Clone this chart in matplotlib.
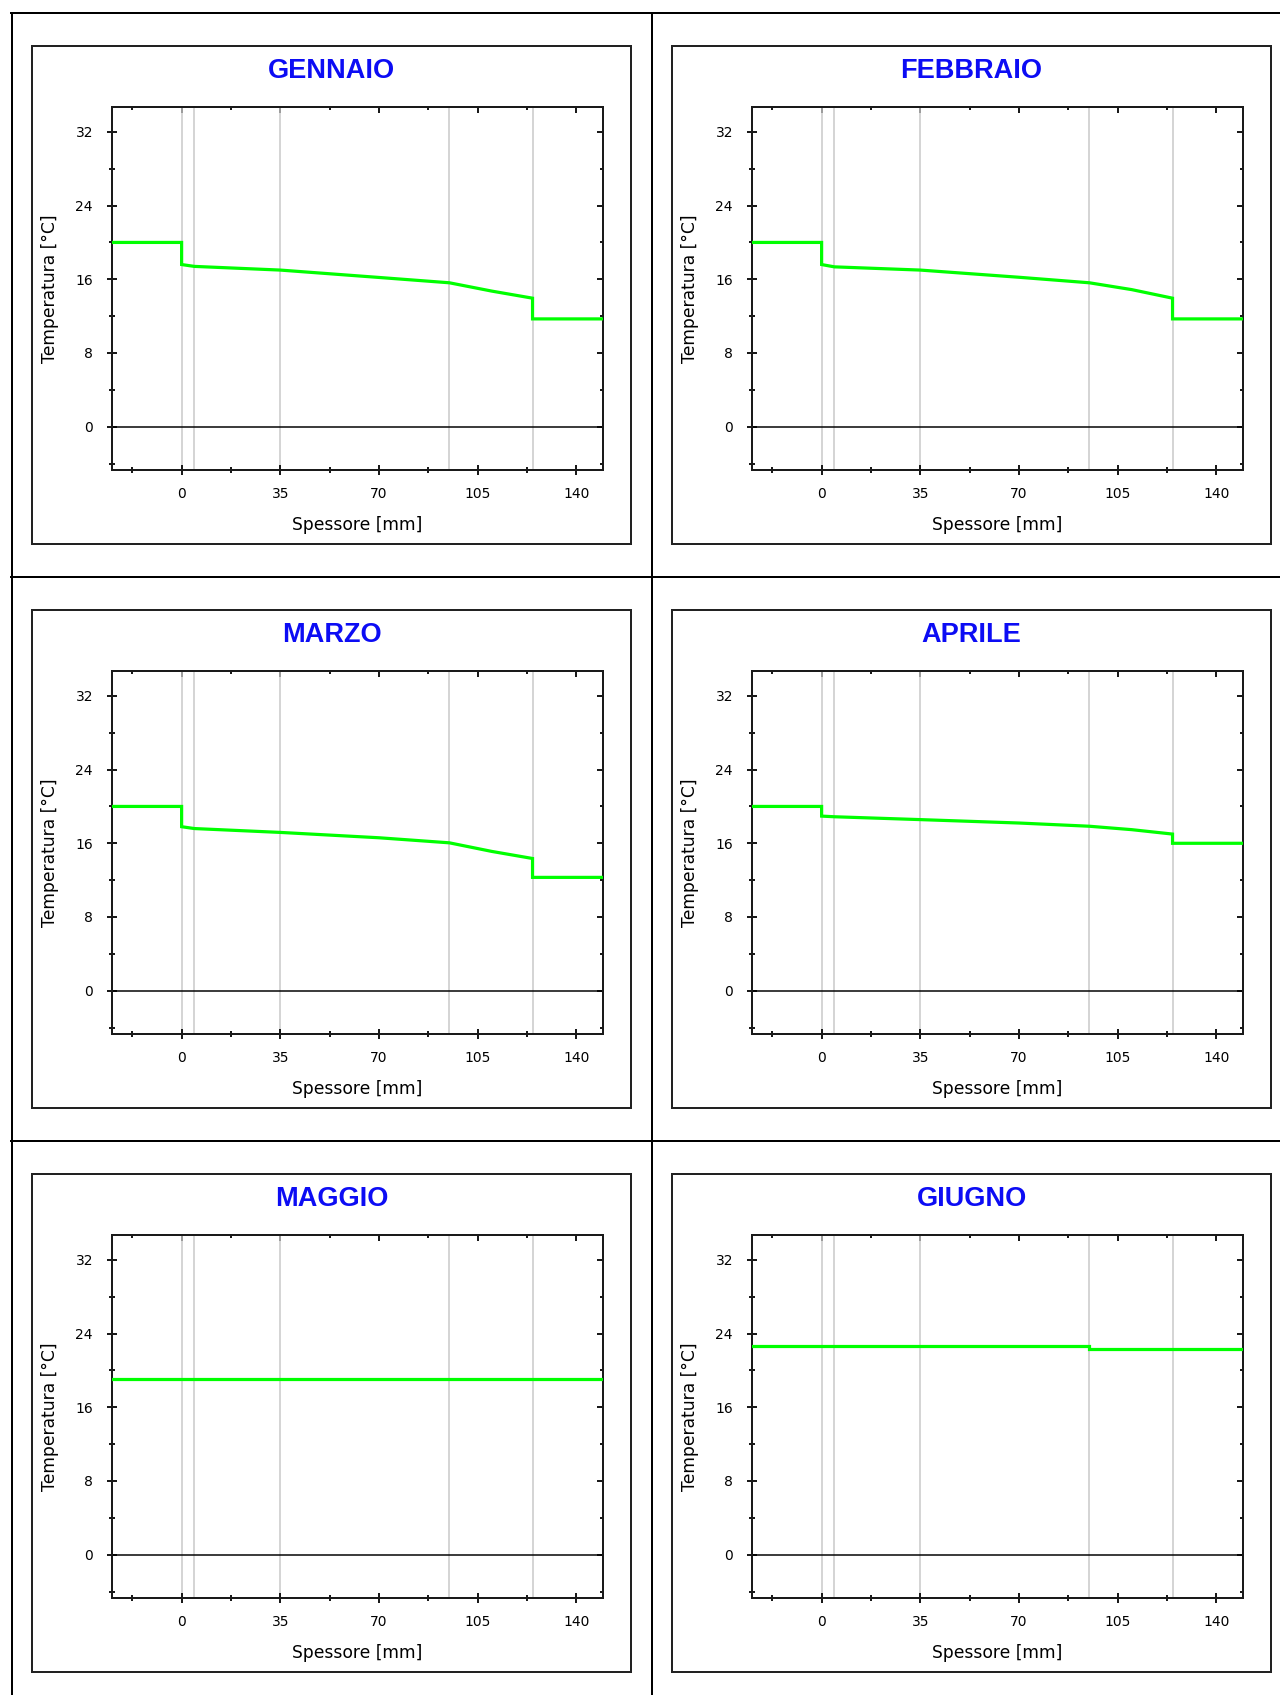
import matplotlib
matplotlib.use("Agg")
import matplotlib.pyplot as plt
from matplotlib.lines import Line2D
from matplotlib.patches import Rectangle

# Monthly temperature profiles through the wall (indoor air -> layers -> outdoor air)
months = ["GENNAIO", "FEBBRAIO", "MARZO", "APRILE", "MAGGIO", "GIUGNO"]

# Thickness positions [mm] of the profile points
spessore = [-25, 0, 0, 4.5, 35, 70, 95, 95, 110, 124.5, 124.5, 150]

# Temperature [°C] at each position, one list per month
t_gennaio = [20.0, 20.0, 17.6, 17.4, 17.0, 16.2, 15.62, 15.62, 14.72, 13.95, 11.7, 11.7]
t_febbraio = [20.0, 20.0, 17.6, 17.35, 17.0, 16.22, 15.62, 15.62, 14.88, 13.95, 11.7, 11.7]
t_marzo = [20.0, 20.0, 17.8, 17.6, 17.18, 16.6, 16.05, 16.05, 15.12, 14.35, 12.3, 12.3]
t_aprile = [20.0, 20.0, 18.95, 18.88, 18.57, 18.2, 17.85, 17.85, 17.48, 17.0, 16.0, 16.0]
t_maggio = [19.1, 19.1, 19.1, 19.1, 19.1, 19.1, 19.1, 19.1, 19.1, 19.1, 19.1, 19.1]
t_giugno = [22.6, 22.6, 22.6, 22.6, 22.6, 22.6, 22.6, 22.32, 22.32, 22.32, 22.32, 22.32]
temperature = [t_gennaio, t_febbraio, t_marzo, t_aprile, t_maggio, t_giugno]

# Layer boundaries [mm]
strati = [0, 4.5, 35, 95, 124.5]

x_major = [0, 35, 70, 105, 140]
x_minor = [-17.5, 17.5, 52.5, 87.5, 122.5]
y_major = [0, 8, 16, 24, 32]
y_minor = [-4, 4, 12, 20, 28]

W, H = 1280, 1695
DPI = 100
fig = plt.figure(figsize=(W / DPI, H / DPI), dpi=DPI)
fig.patch.set_facecolor("white")

PX = 72.0 / DPI  # points per pixel


def fx(x):
    return x / W


def fy(y):
    return 1 - y / H


# Outer table grid
grid_kw = dict(color="black", linewidth=2 * PX, transform=fig.transFigure)
fig.add_artist(Line2D([fx(11), fx(1280)], [fy(13), fy(13)], **grid_kw))
fig.add_artist(Line2D([fx(11.5), fx(11.5)], [fy(13), fy(1695)], **grid_kw))
fig.add_artist(Line2D([fx(652), fx(652)], [fy(13), fy(1695)], **grid_kw))
for yy in (577, 1141):
    fig.add_artist(Line2D([fx(11), fx(1280)], [fy(yy), fy(yy)], **grid_kw))

for i, (name, temps) in enumerate(zip(months, temperature)):
    r, c = divmod(i, 2)
    dx, dy = 640 * c, 564 * r

    # Panel frame
    bx0, bx1 = 32 + dx, 631 + dx
    by0, by1 = 46 + dy, 544 + dy
    fig.add_artist(Rectangle((fx(bx0), fy(by1)), (bx1 - bx0) / W, (by1 - by0) / H,
                             transform=fig.transFigure, fill=False,
                             edgecolor="#222222", linewidth=2 * PX))

    # Title
    fig.text(fx((bx0 + bx1) / 2), fy(71 + dy), name, ha="center", va="center",
             fontsize=19.5, fontweight="bold", family="Liberation Sans", color="#0c0cf4")

    # Plot area
    ax0, ax1 = 112 + dx, 603 + dx
    ay0, ay1 = 107 + dy, 470 + dy
    ax = fig.add_axes([fx(ax0), fy(ay1), (ax1 - ax0) / W, (ay1 - ay0) / H])
    ax.set_xlim(-24.7, 149.5)
    ax.set_ylim(-4.7, 34.7)

    for s in strati:
        ax.axvline(s, color="#c8c8c8", linewidth=1.5 * PX, zorder=1)
    ax.axhline(0, color="black", linewidth=1.5 * PX, zorder=2)
    ax.plot(spessore, temps, color="#00FF00", linewidth=3.2 * PX, zorder=3,
            solid_joinstyle="miter")

    for sp in ax.spines.values():
        sp.set_color("#1a1a1a")
        sp.set_linewidth(2 * PX)

    ax.set_xticks(x_major)
    ax.set_xticks(x_minor, minor=True)
    ax.set_yticks(y_major)
    ax.set_yticks(y_minor, minor=True)
    ax.tick_params(which="major", direction="inout", length=10 * PX, width=2 * PX,
                   color="#1a1a1a", labelsize=10, top=False, right=False)
    ax.tick_params(axis="x", which="major", pad=12 * PX)
    ax.tick_params(axis="y", which="major", pad=14 * PX)
    ax.tick_params(which="minor", direction="inout", length=6 * PX, width=2 * PX,
                   color="#1a1a1a", top=False, right=False)

    # Inward ticks on the top and right edges
    top = ax.secondary_xaxis("top")
    top.set_xticks(x_major)
    top.set_xticks(x_minor, minor=True)
    top.tick_params(which="major", direction="in", length=6 * PX, width=2 * PX,
                    color="#1a1a1a", labeltop=False)
    top.tick_params(which="minor", direction="in", length=3 * PX, width=2 * PX,
                    color="#1a1a1a")
    top.spines["top"].set_visible(False)
    right = ax.secondary_yaxis("right")
    right.set_yticks(y_major)
    right.set_yticks(y_minor, minor=True)
    right.tick_params(which="major", direction="in", length=6 * PX, width=2 * PX,
                      color="#1a1a1a", labelright=False)
    right.tick_params(which="minor", direction="in", length=3 * PX, width=2 * PX,
                      color="#1a1a1a")
    right.spines["right"].set_visible(False)

    hgt = ay1 - ay0
    wid = ax1 - ax0
    ax.set_xlabel("Spessore [mm]", fontsize=12.3, va="center")
    ax.xaxis.set_label_coords(0.5, -55 / hgt)
    ax.set_ylabel("Temperatura [°C]", fontsize=12.3, va="center")
    ax.yaxis.set_label_coords(-62 / wid, 0.5)

fig.savefig("out.png", dpi=DPI)
